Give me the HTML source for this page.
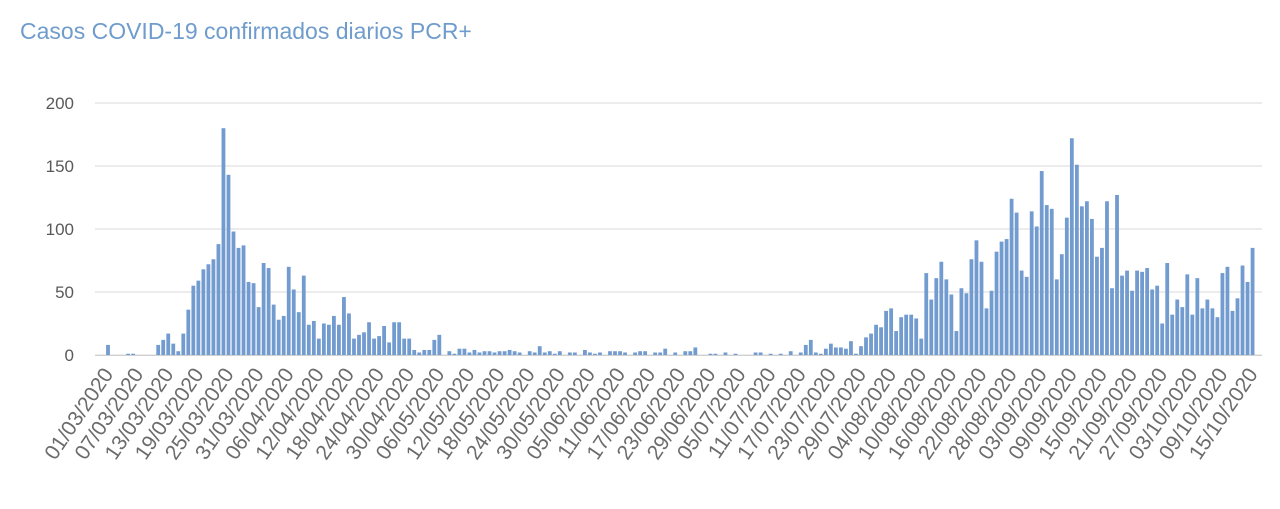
<!DOCTYPE html>
<html><head><meta charset="utf-8"><style>
body{margin:0;background:#fff;width:1280px;height:509px;overflow:hidden}
svg{display:block}
text{font-family:"Liberation Sans",sans-serif}
</style></head><body>
<svg id="s" width="1280" height="509" xmlns="http://www.w3.org/2000/svg">
<text x="20" y="39" font-size="23" fill="#6f9ccc">Casos COVID-19 confirmados diarios PCR+</text>
<g id="g"></g>
</svg>
<script>
var a=[8,0,0,0,1,1,0,0,0,0,8,12,17,9,3,17,36,55,59,68,72,76,88,180,143,98,85,87,58,57,38,73,69,40,28,31,70,52,34,63,24,27,13,25,24,31,24,46,33,13,16,18,26,13,15,23,10,26,26,13,13,4,2,4,4,12,16];
var mid=[0,3,1,5,5,2,4,2,3,3,2,3,3,4,3,2,0,3,2,7,2,3,1,3,0,2,2,0,4,2,1,2,0,3,3,3,2,0,2,3,3,0,2,2,5,0,2,0,3,3,6,0,0,1,1,0,2,0,1,0,0,0,2,2,0,1,0,1,0,3,0,2];
var tail=[8,12,2,1,5,9,6,6,5,11,1];
var b=[7,14,17,24,22,35,37,19,30,32,32,29,13,65,44,61,74,60,48,19,53,49,76,91,74,37,51,82,90,92,124,113,67,62,114,102,146,119,116,60,80,109,172,151,118,122,108,78,85,122,53,127,63,67,51,67,66,69,52,55,25,73,32,44,38,64,32,61,37,44,37,30,65,70,35,45,71,58,85];
var d=a.concat(mid,tail,b);
var s='';
[0,50,100,150,200].forEach(function(v){var y=355-v*1.26;
s+='<line x1="95" x2="1262" y1="'+y+'" y2="'+y+'" stroke="#d9d9d9" stroke-width="1"/>';
s+='<text x="74" y="'+(y+6)+'" font-size="17" fill="#595959" text-anchor="end">'+v+'</text>';});
s+='<line x1="95" x2="1262" y1="355.5" y2="355.5" stroke="#d0d0d0"/>';
var sp=5.02;
for(var i=0;i<d.length;i++){var x=108+sp*i,h=d[i]*1.26;if(h>0)s+='<rect x="'+(x-1.9)+'" y="'+(355-h)+'" width="3.8" height="'+h+'" fill="#729bd0"/>';}
for(var i=0;i<=228;i+=6){var t=new Date(2020,2,1+i);var dd=('0'+t.getDate()).slice(-2),mm=('0'+(t.getMonth()+1)).slice(-2);
var x=108+sp*i+6,y=374;
s+='<text transform="translate('+x+','+y+') rotate(-56)" font-size="21" fill="#6b6b6b" text-anchor="end">'+dd+'/'+mm+'/2020</text>';}
document.getElementById('g').innerHTML=s;
</script>
</body></html>
